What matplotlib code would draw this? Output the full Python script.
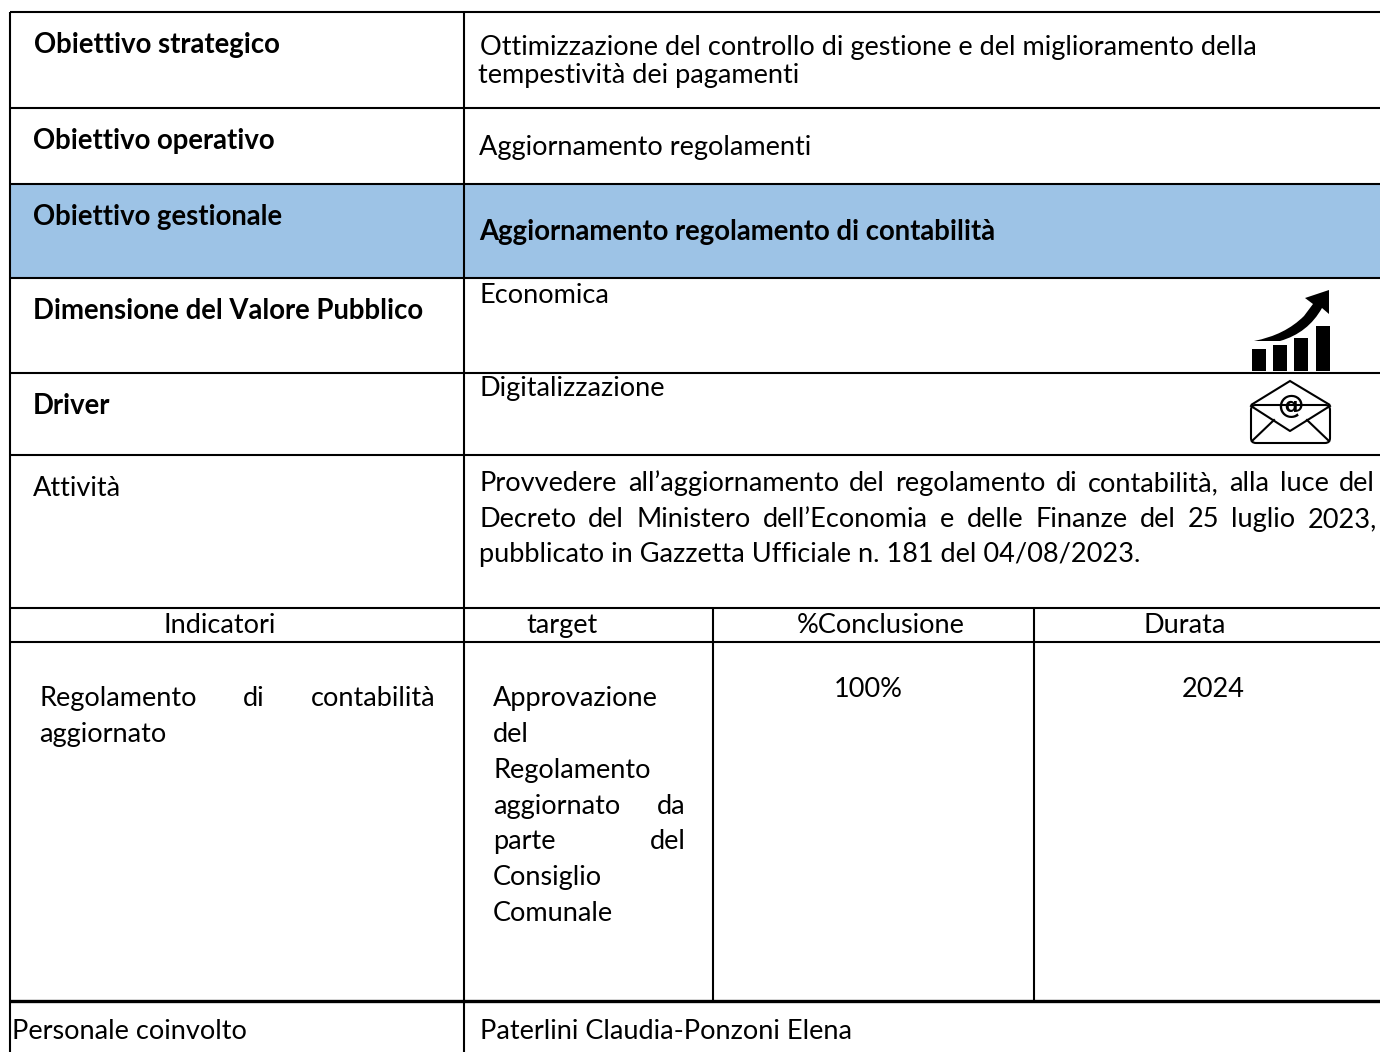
import matplotlib
matplotlib.use("Agg")
import matplotlib.pyplot as plt
from matplotlib.patches import Polygon, Rectangle, FancyBboxPatch, PathPatch
from matplotlib.path import Path

FONT = "Lato"
SIZE = 19.5
BOLD_SIZE = 19.8
BLUE = "#9dc3e6"

# rows of the table, from top to bottom
ROW_LINES = [12, 107.5, 184, 278, 373, 455, 608, 642]
LEFT_LABELS = [
    ("Obiettivo strategico", 34, 53, "bold"),
    ("Obiettivo operativo", 33, 149, "bold"),
    ("Obiettivo gestionale", 33, 225, "bold"),
    ("Dimensione del Valore Pubblico", 33, 319, "bold"),
    ("Driver", 33, 414, "bold"),
    ("Attività", 33, 496, "normal"),
    ("Personale coinvolto", 12, 1039, "normal"),
]
RIGHT_LABELS = [
    ("Ottimizzazione del controllo di gestione e del miglioramento della", 480, 55, "normal"),
    ("tempestività dei pagamenti", 478, 83, "normal"),
    ("Aggiornamento regolamenti", 479, 155, "normal"),
    ("Aggiornamento regolamento di contabilità", 479, 240, "bold"),
    ("Economica", 480, 303, "normal"),
    ("Digitalizzazione", 480, 396, "normal"),
    ("pubblicato in Gazzetta Ufficiale n. 181 del 04/08/2023.", 479, 562, "normal"),
    ("aggiornato", 39, 742, "normal"),
    ("Approvazione", 493, 706, "normal"),
    ("del", 493, 742, "normal"),
    ("Regolamento", 493, 778, "normal"),
    ("Consiglio", 493, 885, "normal"),
    ("Comunale", 493, 921, "normal"),
    ("Paterlini Claudia-Ponzoni Elena", 480, 1039, "normal"),
]
JUSTIFIED = [
    ("Provvedere all’aggiornamento del regolamento di contabilità, alla luce del", 480, 1375, 491),
    ("Decreto del Ministero dell’Economia e delle Finanze del 25 luglio 2023,", 479, 1377, 527),
    ("Regolamento di contabilità", 39, 436, 706),
    ("aggiornato da", 493, 686, 814),
    ("parte del", 493, 686, 849),
]
HEADERS = ["Indicatori", "target", "%Conclusione", "Durata"]
HEADER_X = [220, 562, 881, 1185]
VALUES = ["100%", "2024"]
VALUE_X = [868, 1213]


def justified(ax, renderer, line, x0, x1, y):
    words = line.split(" ")
    artists = [ax.text(0, y, w, family=FONT, fontsize=SIZE, va="baseline") for w in words]
    widths = [a.get_window_extent(renderer).width for a in artists]
    gap = (x1 - x0 - sum(widths)) / (len(words) - 1)
    x = x0
    for a, w in zip(artists, widths):
        a.set_x(x)
        x += w + gap


def draw_growth_icon(ax):
    for left, top in [(1252, 349), (1273, 345), (1294, 338), (1316, 326)]:
        ax.add_patch(Rectangle((left, top), 13.5, 371 - top, color="black", lw=0))
    verts = [(1254, 341), (1285, 335), (1304, 316), (1313, 304),
             (1305, 298), (1329, 290), (1329, 314), (1322, 308),
             (1308, 333), (1280, 341), (1254, 341)]
    codes = [Path.MOVETO, Path.CURVE3, Path.CURVE3, Path.LINETO,
             Path.LINETO, Path.LINETO, Path.LINETO, Path.LINETO,
             Path.CURVE3, Path.CURVE3, Path.LINETO]
    ax.add_patch(PathPatch(Path(verts, codes), color="black", lw=0))


def draw_mail_icon(ax):
    ax.add_patch(FancyBboxPatch((1251, 405), 79, 38, boxstyle="round,pad=0,rounding_size=5",
                                fc="none", ec="black", lw=1.5))
    ax.add_patch(Polygon([(1251, 405), (1290, 381), (1330, 405)], closed=False,
                         fill=False, ec="black", lw=1.5))
    ax.plot([1251, 1290, 1330], [406, 431, 406], color="black", lw=1.5)
    ax.plot([1252, 1274], [441, 420], color="black", lw=1.5)
    ax.plot([1329, 1307], [441, 420], color="black", lw=1.5)
    ax.text(1290, 413, "@", family="DejaVu Sans", fontsize=19, fontweight="bold",
            ha="center", va="baseline")


fig = plt.figure(figsize=(13.8, 10.52), dpi=100)
ax = fig.add_axes([0, 0, 1, 1])
ax.set_xlim(0, 1380)
ax.set_ylim(1052, 0)
ax.axis("off")
renderer = fig.canvas.get_renderer()

ax.add_patch(Rectangle((10, 184), 1370, 94, color=BLUE, lw=0, zorder=0))

for y in ROW_LINES:
    ax.plot([10, 1380], [y, y], color="black", lw=1.5, solid_capstyle="butt")
ax.plot([10, 1380], [1001, 1001], color="black", lw=2.4, solid_capstyle="butt")
ax.plot([10, 10], [12, 1052], color="black", lw=1.5, solid_capstyle="butt")
ax.plot([464, 464], [12, 1052], color="black", lw=1.5, solid_capstyle="butt")
for x in [713, 1034]:
    ax.plot([x, x], [608, 1001], color="black", lw=1.5, solid_capstyle="butt")

for label, x, y, weight in LEFT_LABELS + RIGHT_LABELS:
    size = BOLD_SIZE if weight == "bold" else SIZE
    ax.text(x, y, label, family=FONT, fontsize=size, fontweight=weight, va="baseline")
for line, x0, x1, y in JUSTIFIED:
    justified(ax, renderer, line, x0, x1, y)
for label, x in zip(HEADERS, HEADER_X):
    ax.text(x, 633, label, family=FONT, fontsize=SIZE, ha="center", va="baseline")
for label, x in zip(VALUES, VALUE_X):
    ax.text(x, 697, label, family=FONT, fontsize=SIZE, ha="center", va="baseline")

draw_growth_icon(ax)
draw_mail_icon(ax)

fig.savefig("out.png", dpi=100)
